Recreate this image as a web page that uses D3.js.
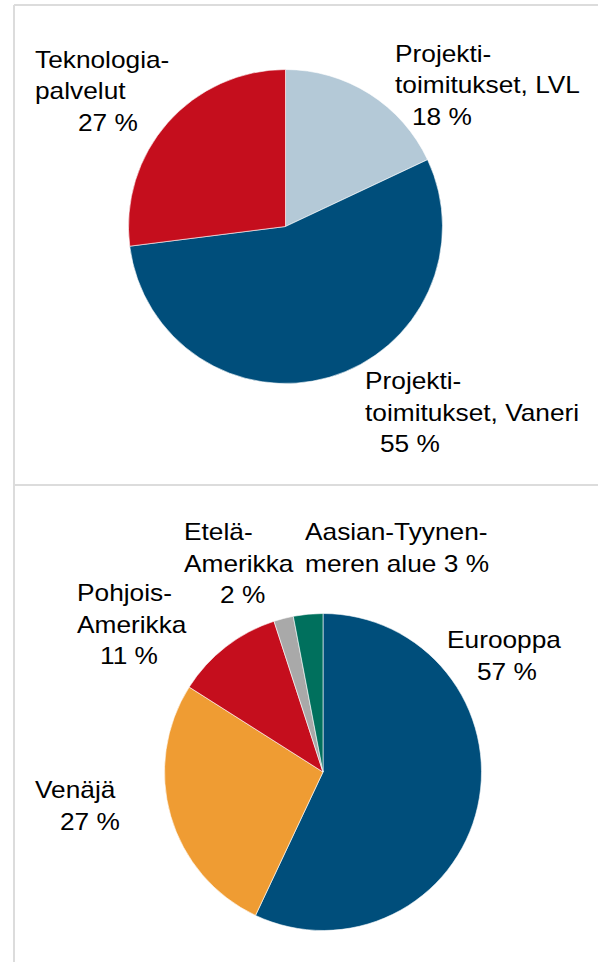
<!DOCTYPE html>
<html>
<head>
<meta charset="utf-8">
<script src="https://cdn.jsdelivr.net/npm/d3@7/dist/d3.min.js"></script>
<style>
  html, body { margin: 0; padding: 0; background: #fff; }
  svg { display: block; }
  text { font-family: "Liberation Sans", Arial, sans-serif; font-size: 24px; fill: #000; }
</style>
</head>
<body>
<svg id="chart" width="598" height="962"></svg>
<script>
// top pie: sales by business area
const topNames = [
  ['Projekti-', 'toimitukset, LVL'],
  ['Projekti-', 'toimitukset, Vaneri'],
  ['Teknologia-', 'palvelut'],
]
const topValues = [18, 55, 27]
const topColors = ['#b4c9d7', '#004e7b', '#c50e1d']

// bottom pie: sales by market area
const bottomNames = [
  ['Eurooppa'],
  ['Venäjä'],
  ['Pohjois-', 'Amerikka'],
  ['Etelä-', 'Amerikka'],
  ['Aasian-Tyynen-', 'meren alue'],
]
const bottomValues = [57, 27, 11, 2, 3]
const bottomColors = ['#004e7b', '#ef9c33', '#c50e1d', '#a9a9a9', '#00705d']

// label placement: left x of name lines, left x of value line, first baseline
// inline = value written on the last name line
const topLabelPos = [
  { x: 395, vx: 412, y: 61.5 },
  { x: 365, vx: 380, y: 389 },
  { x: 35, vx: 78, y: 67.5 },
]
const bottomLabelPos = [
  { x: 447, vx: 477, y: 648 },
  { x: 35, vx: 60, y: 798 },
  { x: 77, vx: 100, y: 601 },
  { x: 184, vx: 220, y: 540 },
  { x: 305, vx: 305, y: 540, inline: true },
]

const svg = d3.select('#chart')
const lineH = 31.5
const stretch = 1.095

// frame lines
const frame = svg.append('g').attr('stroke', '#dcdcdc').attr('stroke-width', 2)
frame.append('line').attr('x1', 14).attr('y1', 5).attr('x2', 14).attr('y2', 962)
frame.append('line').attr('x1', 14).attr('y1', 5).attr('x2', 598).attr('y2', 5)
frame.append('line').attr('x1', 14).attr('y1', 485).attr('x2', 598).attr('y2', 485)

function drawPie(cx, cy, r, names, values, colors, labelPos) {
  const pie = d3.pie().sort(null).value(d => d)
  const arc = d3.arc().innerRadius(0).outerRadius(r)
  const g = svg.append('g').attr('transform', `translate(${cx},${cy})`)

  g.selectAll('path')
    .data(pie(values))
    .join('path')
    .attr('d', arc)
    .attr('fill', (d, i) => colors[i])
    .attr('stroke', '#fff')
    .attr('stroke-width', 0.6)

  // labels
  names.forEach((lines, i) => {
    const p = labelPos[i]
    const rows = lines.map(t => ({ t, x: p.x }))
    if (p.inline) {
      rows[rows.length - 1].t += ' ' + values[i] + ' %'
    } else {
      rows.push({ t: values[i] + ' %', x: p.vx })
    }
    rows.forEach((row, j) => {
      svg.append('text')
        .attr('transform', `translate(${row.x},${p.y + j * lineH}) scale(${stretch},1)`)
        .text(row.t)
    })
  })
}

drawPie(285.5, 226.5, 157, topNames, topValues, topColors, topLabelPos)
drawPie(323, 772, 158.5, bottomNames, bottomValues, bottomColors, bottomLabelPos)
</script>
</body>
</html>
